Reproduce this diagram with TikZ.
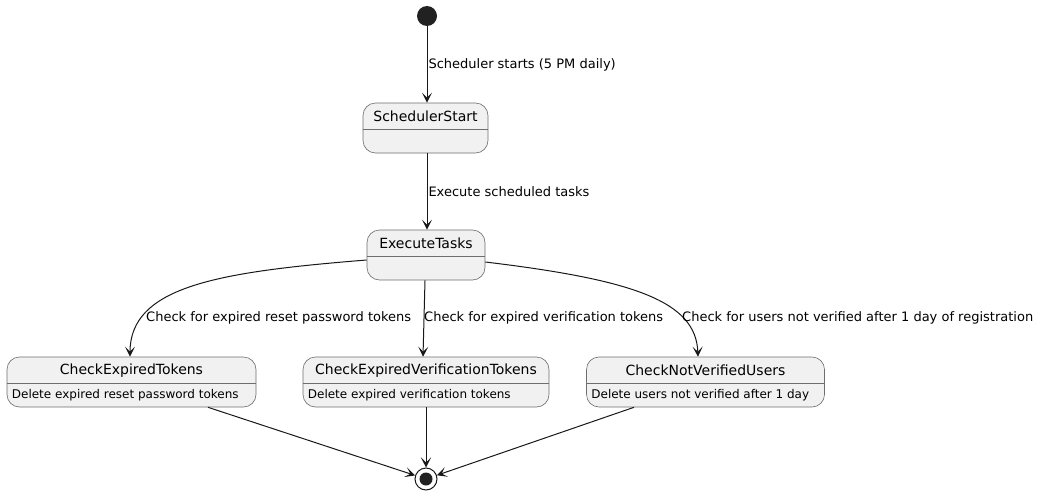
\documentclass[tikz,border=0pt]{standalone}
\usepackage{fontspec}
\setmainfont{DejaVu Sans}
\usetikzlibrary{calc,positioning,arrows.meta}
\definecolor{umlline}{HTML}{181818}
\definecolor{umlborder}{HTML}{6E6E6E}
\definecolor{umlfill}{HTML}{F1F1F1}
\newcommand{\stname}[1]{{\fontsize{14}{16}\selectfont #1}}
\newcommand{\stdesc}[1]{{\fontsize{12}{14}\selectfont #1}}
\newcommand{\trlabel}[1]{{\fontsize{13}{15}\selectfont #1}}

\begin{document}
\begin{tikzpicture}[x=1pt,y=-1pt,
    statebox/.style={draw=umlborder, line width=0.6pt, fill=umlfill, rounded corners=12.5pt, minimum height=50pt, inner sep=0pt},
    sepline/.style={draw=umlborder, line width=0.6pt},
    trans/.style={draw=umlline, line width=1pt, -{Stealth[length=10pt,width=10pt,inset=5pt]}},
    lbl/.style={anchor=west, inner sep=1pt}]
  \useasboundingbox (0,0) rectangle (1041,495);
  % initial and final pseudo states
  \node[circle, fill=black!87, minimum size=20pt, inner sep=0pt] (init) at (427,16) {};
  \node[circle, draw=umlline, line width=1pt, fill=white, minimum size=22pt, inner sep=0pt] (fin) at (426,479) {};
  \node[circle, fill=black!87, minimum size=13pt, inner sep=0pt] (finDot) at (fin) {};

  % states
  \node[statebox, minimum width=125pt] (sStart) at (425.5,128) {};
  \node[statebox, minimum width=118pt] (sExec) at (426,255) {};
  \node[statebox, minimum width=249pt] (sCET) at (131.5,382) {};
  \node[statebox, minimum width=246pt] (sCEVT) at (426,382) {};
  \node[statebox, minimum width=238pt] (sCNVU) at (705.5,382) {};
  \foreach \s/\t in {sStart/SchedulerStart, sExec/ExecuteTasks, sCET/CheckExpiredTokens, sCEVT/CheckExpiredVerificationTokens, sCNVU/CheckNotVerifiedUsers}{
    \node (\s T) at ($(\s.north)+(0,14)$) {\stname{\t}};
    \draw[sepline] ($(\s.north west)+(0,26.5)$) -- ($(\s.north east)+(0,26.5)$);
  }
  \node[anchor=west, inner sep=0pt] (dCET) at ($(sCET.north west)+(5,38)$) {\stdesc{Delete expired reset password tokens}};
  \node[anchor=west, inner sep=0pt] (dCEVT) at ($(sCEVT.north west)+(5,38)$) {\stdesc{Delete expired verification tokens}};
  \node[anchor=west, inner sep=0pt] (dCNVU) at ($(sCNVU.north west)+(5,38)$) {\stdesc{Delete users not verified after 1 day}};

  % transitions
  \draw[trans] (init) -- (sStart.north -| init) node[lbl, pos=0.5] (lStart) {\trlabel{Scheduler starts (5 PM daily)}};
  \draw[trans] ([xshift=1.5pt]sStart.south) -- ([xshift=1pt]sExec.north) node[lbl, pos=0.5] (lExec) {\trlabel{Execute scheduled tasks}};
  \draw[trans] ([yshift=-5pt]sExec.west) .. controls +(-150,12) and +(0,-70) .. ([xshift=-1.5pt]sCET.north);
  \draw[trans] ([xshift=-1pt]sExec.south) -- ([xshift=-3pt]sCEVT.north);
  \draw[trans] ([yshift=-7pt]sExec.east) .. controls +(150,18) and +(-2,-55) .. ([xshift=-7.5pt]sCNVU.north);
  \node[lbl] (lCET) at (145,318) {\trlabel{Check for expired reset password tokens}};
  \node[lbl] (lCEVT) at (423,318) {\trlabel{Check for expired verification tokens}};
  \node[lbl] (lCNVU) at (681,318) {\trlabel{Check for users not verified after 1 day of registration}};
  \draw[trans] ([xshift=76.5pt]sCET.south) -- (fin);
  \draw[trans] (sCEVT.south) -- (fin);
  \draw[trans] ([xshift=-71.5pt]sCNVU.south) -- (fin);
\end{tikzpicture}
\end{document}
